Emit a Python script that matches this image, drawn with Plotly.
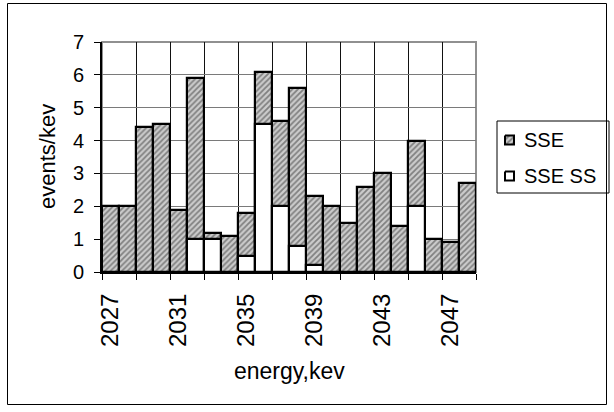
import plotly.graph_objects as go

energy = [2027, 2028, 2029, 2030, 2031, 2032, 2033, 2034, 2035, 2036, 2037,
          2038, 2039, 2040, 2041, 2042, 2043, 2044, 2045, 2046, 2047, 2048]
sse = [2.0, 2.0, 4.4, 4.5, 1.9, 5.9, 1.2, 1.1, 1.8, 6.1, 4.6,
       5.6, 2.3, 2.0, 1.5, 2.6, 3.0, 1.4, 4.0, 1.0, 0.9, 2.7]
sse_ss = [None, None, None, None, None, 1.0, 1.0, None, 0.5, 4.5, 2.0,
          0.8, 0.2, None, None, None, None, None, 2.0, None, None, None]
tick_labels = ["2027", "2031", "2035", "2039", "2043", "2047"]
tick_pos = [2027, 2031, 2035, 2039, 2043, 2047]
boundaries = [2026.5, 2028.5, 2030.5, 2032.5, 2034.5, 2036.5, 2038.5,
              2040.5, 2042.5, 2044.5, 2046.5, 2048.5]
series_names = ["SSE", "SSE SS"]
x_title = "energy,kev"
y_title = "events/kev"

W, H = 614, 412
FONT = "Liberation Sans, Arial, sans-serif"
HATCH = dict(shape="/", fgcolor="#333333", bgcolor="#cccccc", size=4, solidity=0.45)

fig = go.Figure()
fig.add_trace(go.Bar(
    x=energy, y=sse, name=series_names[0], width=1,
    marker=dict(color="#b8b8b8", line=dict(color="black", width=2.2), pattern=HATCH),
    xaxis="x", yaxis="y", showlegend=False,
))
fig.add_trace(go.Bar(
    x=energy, y=sse_ss, name=series_names[1], width=1,
    marker=dict(color="white", line=dict(color="black", width=2.2)),
    xaxis="x", yaxis="y", showlegend=False,
))

# legend drawn in a pixel-space overlay (x2/y2 span the whole figure)
lg_left, lg_top, row_h = 497, 121, 36
sym = 9
for i, nm in enumerate(series_names):
    cy = lg_top + 19 + i * row_h
    x0, x1 = lg_left + 8, lg_left + 8 + sym
    y0, y1 = cy - sym / 2, cy + sym / 2
    fig.add_trace(go.Scatter(
        x=[x0, x1, x1, x0, x0], y=[y0, y0, y1, y1, y0], mode="lines",
        fill="toself",
        fillcolor="#b8b8b8" if i == 0 else "white",
        fillpattern=HATCH if i == 0 else None,
        line=dict(color="black", width=2), xaxis="x2", yaxis="y2",
        showlegend=False, hoverinfo="skip",
    ))
    fig.add_annotation(x=lg_left + 25, y=cy, xref="x2", yref="y2", text=nm,
                       showarrow=False, xanchor="left", yanchor="middle",
                       font=dict(family=FONT, size=20, color="black"))

# axis titles
fig.add_annotation(x=289, y=371, xref="x2", yref="y2", text=x_title,
                   showarrow=False, xanchor="center", yanchor="middle",
                   font=dict(family=FONT, size=23, color="black"))
fig.add_annotation(x=47, y=157, xref="x2", yref="y2", text=y_title,
                   showarrow=False, xanchor="center", yanchor="middle",
                   textangle=-90, font=dict(family=FONT, size=22, color="black"))

fig.update_layout(
    width=W, height=H,
    margin=dict(l=0, r=0, t=0, b=0),
    barmode="overlay", bargap=0,
    paper_bgcolor="white", plot_bgcolor="rgba(0,0,0,0)",
    font=dict(family=FONT, size=20, color="black"),
    showlegend=False,
    xaxis=dict(
        domain=[102 / W, 476 / W], anchor="y",
        range=[2026.5, 2048.5], tickmode="array", tickvals=tick_pos,
        ticktext=tick_labels, tickangle=-90, ticks="", showgrid=False,
        showline=True, linecolor="black", linewidth=2,
        tickfont=dict(family=FONT, size=24), ticklabelstandoff=10,
        minor=dict(tickmode="array", tickvals=boundaries, ticks="outside",
                   ticklen=6, tickcolor="black", tickwidth=1,
                   showgrid=True, gridcolor="#111", gridwidth=1),
        zeroline=False, automargin=False, fixedrange=True,
    ),
    yaxis=dict(
        domain=[(H - 272) / H, (H - 42) / H], anchor="x",
        range=[0, 7], dtick=1, ticks="outside", ticklen=6, tickcolor="black",
        showgrid=True, gridcolor="#7a7a7a", gridwidth=1,
        showline=True, linecolor="black", linewidth=2,
        tickfont=dict(family=FONT, size=20), ticklabelstandoff=6,
        zeroline=False, automargin=False, fixedrange=True,
    ),
    xaxis2=dict(domain=[0, 1], range=[0, W], visible=False, anchor="y2",
                fixedrange=True),
    yaxis2=dict(domain=[0, 1], range=[H, 0], visible=False, anchor="x2",
                fixedrange=True),
    shapes=[
        # plot-area frame (top/right grey)
        dict(type="rect", xref="x domain", yref="y domain", x0=0, x1=1, y0=0, y1=1,
             line=dict(color="#909090", width=2), layer="below"),
        # outer chart border
        dict(type="rect", xref="x2", yref="y2", x0=7.5, x1=606.5, y0=3.5, y1=404.5,
             line=dict(color="black", width=1)),
        # legend box
        dict(type="rect", xref="x2", yref="y2", x0=lg_left, x1=609,
             y0=lg_top, y1=lg_top + 72, line=dict(color="black", width=1)),
    ],
)

fig.write_html("out.html",
               config={"displayModeBar": False},
               post_script="document.body.style.margin='0';"
                           "document.body.style.overflow='hidden';")
